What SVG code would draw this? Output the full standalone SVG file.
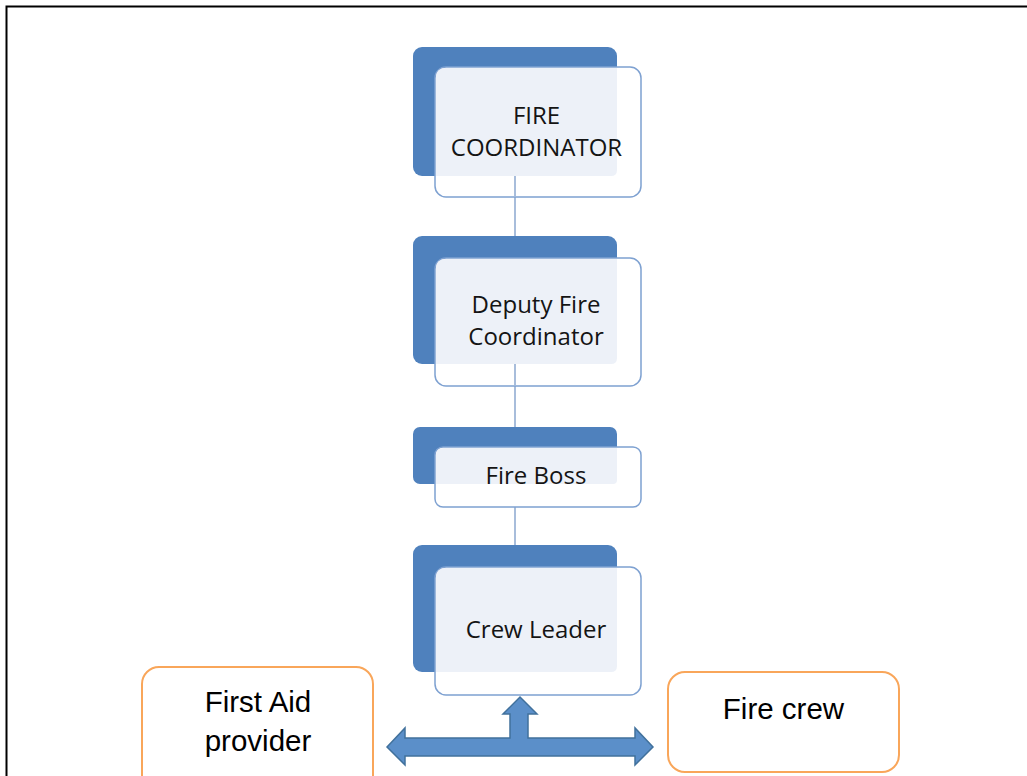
<svg xmlns="http://www.w3.org/2000/svg" width="1027" height="776" viewBox="0 0 1027 776">
  <style>
    .back { fill: #4f81bd; }
    .front { fill: #ffffff; stroke: #7ea1d1; stroke-width: 1.5; }
    .pane { fill: #edf1f8; }
    .lbl { font-family: "Open Sans", "Liberation Sans", sans-serif; font-size: 24px; fill: #141414; text-anchor: middle; }
    .side { fill: #ffffff; stroke: #f9a65a; stroke-width: 2; }
    .sidelbl { font-family: "Liberation Sans", Arial, sans-serif; font-size: 29.5px; fill: #000000; text-anchor: middle; }
    .link { stroke: #a8bddb; stroke-width: 2; fill: none; }
  </style>

  <!-- page frame -->
  <rect x="6.5" y="6.5" width="1040" height="800" fill="#ffffff" stroke="#000000" stroke-width="2"/>

  <!-- vertical links between the stacked roles -->
  <g id="connectors">
    <line class="link" x1="515" y1="176" x2="515" y2="236"/>
    <line class="link" x1="515" y1="364" x2="515" y2="427"/>
    <line class="link" x1="515" y1="507" x2="515" y2="545"/>
  </g>

  <g id="fire-coordinator">
    <rect class="back" x="413" y="47" width="204" height="129" rx="9"/>
    <rect class="front" x="435" y="67" width="206" height="130" rx="11"/>
    <path class="pane" d="M436 77 Q436 68 446 68 H617 V170 Q617 176 611 176 H436 Z"/>
    <line class="link" x1="515" y1="176" x2="515" y2="196"/>
    <text class="lbl" x="536.5" y="123.5">FIRE</text>
    <text class="lbl" x="536.5" y="156">COORDINATOR</text>
  </g>

  <g id="deputy-fire-coordinator">
    <rect class="back" x="413" y="236" width="204" height="128" rx="9"/>
    <rect class="front" x="435" y="258" width="206" height="128" rx="11"/>
    <path class="pane" d="M436 268 Q436 259 446 259 H617 V358 Q617 364 611 364 H436 Z"/>
    <line class="link" x1="515" y1="364" x2="515" y2="385"/>
    <text class="lbl" x="536" y="313">Deputy Fire</text>
    <text class="lbl" x="536" y="345">Coordinator</text>
  </g>

  <g id="fire-boss">
    <rect class="back" x="413" y="427" width="204" height="57" rx="7"/>
    <rect class="front" x="435" y="447" width="206" height="60" rx="8"/>
    <path class="pane" d="M436 455 Q436 448 444 448 H617 V480 Q617 484 613 484 H436 Z"/>
    <text class="lbl" x="536" y="483.5">Fire Boss</text>
  </g>

  <g id="crew-leader">
    <rect class="back" x="413" y="545" width="204" height="127" rx="9"/>
    <rect class="front" x="435" y="567" width="206" height="128" rx="11"/>
    <path class="pane" d="M436 577 Q436 568 446 568 H617 V666 Q617 672 611 672 H436 Z"/>
    <text class="lbl" x="536" y="638">Crew Leader</text>
  </g>

  <!-- three-way block arrow under the crew leader -->
  <g id="split-arrow">
    <polygon points="387,747 405,728 405,738 510,738 510,714 503,714 520,697 537,714 528,714 528,738 635,738 635,728 653,747 635,765 635,756 405,756 405,765" fill="#5b8fc9" stroke="#41719c" stroke-width="1.5" stroke-linejoin="miter"/>
  </g>

  <g id="first-aid-provider">
    <rect class="side" x="142" y="667" width="231" height="125" rx="17"/>
    <text class="sidelbl" x="258" y="711.5">First Aid</text>
    <text class="sidelbl" x="258" y="751">provider</text>
  </g>

  <g id="fire-crew">
    <rect class="side" x="668" y="672" width="231" height="100" rx="17"/>
    <text class="sidelbl" x="783.5" y="718.5">Fire crew</text>
  </g>
</svg>
